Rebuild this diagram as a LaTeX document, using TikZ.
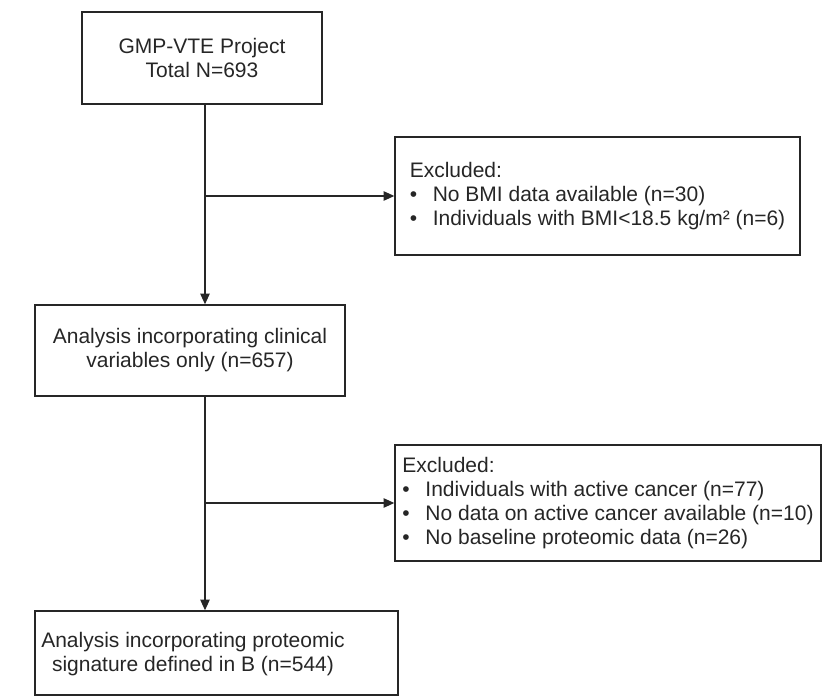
\documentclass[tikz,border=0pt]{standalone}
\usepackage{fontspec}
\setmainfont{Liberation Sans}
\usetikzlibrary{arrows.meta}
\begin{document}
\begin{tikzpicture}[x=0.75pt,y=-0.75pt,
  box/.style={draw=black!85, line width=1pt, inner sep=0pt, align=center,
    font=\fontsize{15.75}{18}\selectfont, text=black!85},
  txt/.style={inner sep=0pt, align=center, font=\fontsize{15.75}{18}\selectfont, text=black!85},
  lbox/.style={box, align=left},
  arr/.style={draw=black!85, line width=1pt, -{Triangle[length=8pt,width=7pt]}},
  ]
\useasboundingbox (0,0) rectangle (822,698);
\newcommand{\bul}{\makebox[17.25pt][l]{\textbullet}}

\node[box, minimum width=180pt, minimum height=69pt] (b1) at (202,58)
  {GMP-VTE Project\\Total N=693};

\node[lbox, minimum width=303.75pt, minimum height=88.5pt] (b2) at (597.5,196)
  {Excluded:\\
   \bul No BMI data available (n=30)\\
   \bul Individuals with BMI<18.5 kg/m² (n=6)};

\node[box, minimum width=232.5pt, minimum height=68.25pt] (b3) at (190,350.5)
  {Analysis incorporating clinical\\variables only (n=657)};

\node[lbox, minimum width=319.5pt, minimum height=87pt] (b4) at (608,503)
  {Excluded:\\
   \bul Individuals with active cancer (n=77)\\
   \bul No data on active cancer available (n=10)\\
   \bul No baseline proteomic data (n=26)};

\node[box, minimum width=272.25pt, minimum height=63pt] (b5) at (216.5,653) {};
\node[txt] (b5t) at (193,654)
  {Analysis incorporating proteomic\\signature defined in B (n=544)};

\coordinate (j1) at (205,196);
\coordinate (j2) at (205,503);

\draw[arr] (b1.south -| j1) -- (b3.north -| j1);
\draw[arr] (j1) -- (b2.west);
\draw[arr] (b3.south -| j1) -- (b5.north -| j1);
\draw[arr] (j2) -- (b4.west);
\end{tikzpicture}
\end{document}
